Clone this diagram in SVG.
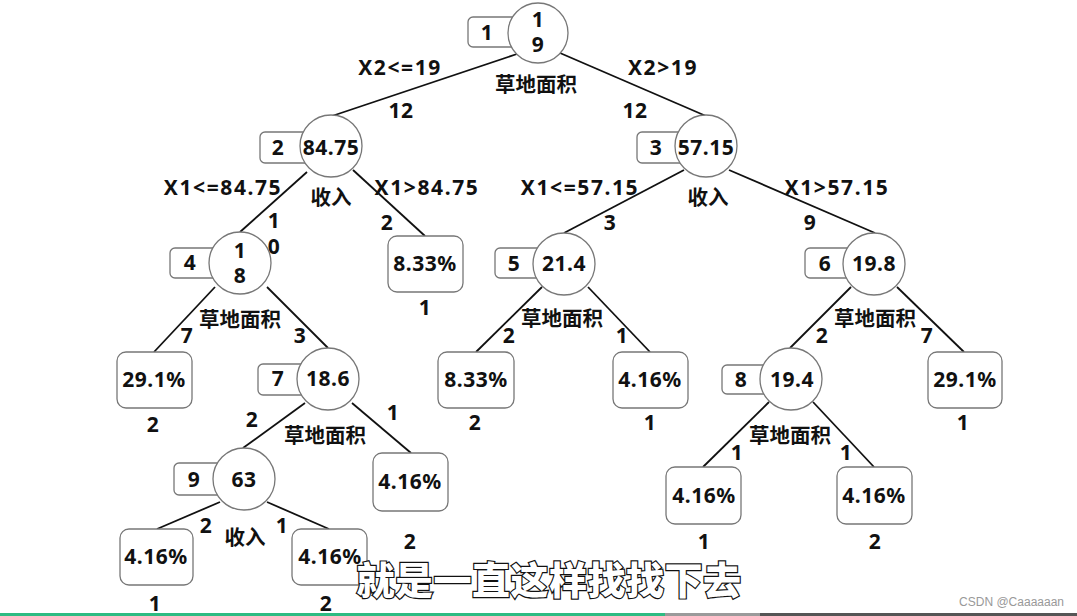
<svg xmlns="http://www.w3.org/2000/svg" width="1077" height="616" viewBox="0 0 1077 616">
<style>
.ln{stroke:#111;stroke-width:1.8;fill:none}
.c{fill:#fff;stroke:#777;stroke-width:1.3}
.b{fill:#fff;stroke:#777;stroke-width:1.3}
.t{font-family:"Noto Sans","Noto Sans CJK SC",sans-serif;font-weight:bold;font-size:21px;letter-spacing:0.5px;text-anchor:middle;fill:#111}
.x{letter-spacing:1.6px}
.cn{font-family:"Noto Sans CJK SC","Noto Sans",sans-serif;font-weight:bold;font-size:20.5px;text-anchor:middle;fill:#111}
.sub{font-family:"Noto Sans CJK SC",sans-serif;font-weight:900;font-size:38px;letter-spacing:0.5px;text-anchor:middle;fill:#fff;stroke:#111;stroke-width:2.4;paint-order:stroke}
.wm{font-family:"Liberation Sans",sans-serif;font-size:12px;text-anchor:end;fill:#999}
</style>
<rect width="1077" height="616" fill="#fff"/>
<g id="connectors">
<line class="ln" x1="517" y1="54" x2="332" y2="116"/>
<line class="ln" x1="560" y1="53" x2="706" y2="116"/>
<line class="ln" x1="307" y1="172" x2="240" y2="232"/>
<line class="ln" x1="353" y1="170" x2="425" y2="236"/>
<line class="ln" x1="684" y1="170" x2="564" y2="233"/>
<line class="ln" x1="729" y1="170" x2="875" y2="233"/>
<line class="ln" x1="215" y1="287" x2="154" y2="352"/>
<line class="ln" x1="267" y1="287" x2="328" y2="348"/>
<line class="ln" x1="305" y1="403" x2="243" y2="448"/>
<line class="ln" x1="352" y1="403" x2="411" y2="453"/>
<line class="ln" x1="220" y1="502" x2="157" y2="529"/>
<line class="ln" x1="267" y1="502" x2="329" y2="529"/>
<line class="ln" x1="542" y1="287" x2="476" y2="352"/>
<line class="ln" x1="588" y1="287" x2="650" y2="352"/>
<line class="ln" x1="851" y1="287" x2="790" y2="348"/>
<line class="ln" x1="897" y1="287" x2="964" y2="352"/>
<line class="ln" x1="769" y1="402" x2="703" y2="467"/>
<line class="ln" x1="813" y1="402" x2="874" y2="467"/>
</g>
<g id="edge-labels">
<text class="t x" x="400" y="75">X2&lt;=19</text>
<text class="cn" x="536" y="92">草地面积</text>
<text class="t x" x="663" y="75">X2&gt;19</text>
<text class="t" x="401" y="118">12</text>
<text class="t" x="635" y="118">12</text>
<text class="t x" x="223" y="195">X1&lt;=84.75</text>
<text class="cn" x="331" y="205">收入</text>
<text class="t x" x="427" y="195">X1&gt;84.75</text>
<text class="t" x="274" y="228">1</text>
<text class="t" x="274" y="254">0</text>
<text class="t" x="387" y="230">2</text>
<text class="t x" x="580" y="195">X1&lt;=57.15</text>
<text class="cn" x="708" y="205">收入</text>
<text class="t x" x="837" y="195">X1&gt;57.15</text>
<text class="t" x="610" y="230">3</text>
<text class="t" x="810" y="230">9</text>
<text class="cn" x="240" y="327">草地面积</text>
<text class="t" x="187" y="343">7</text>
<text class="t" x="300" y="343">3</text>
<text class="t" x="252" y="427">2</text>
<text class="cn" x="325" y="443">草地面积</text>
<text class="t" x="393" y="420">1</text>
<text class="t" x="206" y="533">2</text>
<text class="cn" x="245" y="545">收入</text>
<text class="t" x="282" y="533">1</text>
<text class="cn" x="562" y="326">草地面积</text>
<text class="t" x="509" y="343">2</text>
<text class="t" x="622" y="343">1</text>
<text class="cn" x="875" y="326">草地面积</text>
<text class="t" x="822" y="343">2</text>
<text class="t" x="927" y="343">7</text>
<text class="cn" x="790" y="443">草地面积</text>
<text class="t" x="737" y="460">1</text>
<text class="t" x="846" y="460">1</text>
</g>
<g id="node1">
<rect class="b" x="468" y="17" width="50" height="30" rx="5"/>
<circle class="c" cx="538" cy="33" r="30"/>
<text class="t" x="487" y="40">1</text>
<text class="t" x="538" y="27">1</text>
<text class="t" x="538" y="52">9</text>
</g>
<g id="node2">
<rect class="b" x="260" y="132" width="50" height="31" rx="5"/>
<circle class="c" cx="331" cy="146" r="31"/>
<text class="t" x="278" y="155">2</text>
<text class="t" x="331" y="155">84.75</text>
</g>
<g id="node3">
<rect class="b" x="637" y="132" width="50" height="31" rx="5"/>
<circle class="c" cx="706" cy="146" r="31"/>
<text class="t" x="656" y="155">3</text>
<text class="t" x="706" y="155">57.15</text>
</g>
<g id="node4">
<rect class="b" x="170" y="248" width="50" height="30" rx="5"/>
<circle class="c" cx="240" cy="263" r="31"/>
<text class="t" x="190" y="270">4</text>
<text class="t" x="240" y="258">1</text>
<text class="t" x="240" y="283">8</text>
</g>
<g id="leaf-n2-right">
<rect class="b" x="388" y="236" width="75" height="56" rx="9"/>
<text class="t" x="425" y="271">8.33%</text>
<text class="t" x="425" y="315">1</text>
</g>
<g id="node5">
<rect class="b" x="495" y="248" width="50" height="30" rx="5"/>
<circle class="c" cx="564" cy="264" r="31"/>
<text class="t" x="514" y="271">5</text>
<text class="t" x="564" y="271">21.4</text>
</g>
<g id="node6">
<rect class="b" x="805" y="248" width="50" height="30" rx="5"/>
<circle class="c" cx="874" cy="264" r="31"/>
<text class="t" x="825" y="271">6</text>
<text class="t" x="874" y="271">19.8</text>
</g>
<g id="leaf-n4-left">
<rect class="b" x="117" y="352" width="75" height="56" rx="9"/>
<text class="t" x="154" y="387">29.1%</text>
<text class="t" x="153" y="432">2</text>
</g>
<g id="node7">
<rect class="b" x="258" y="364" width="50" height="31" rx="5"/>
<circle class="c" cx="328" cy="379" r="31"/>
<text class="t" x="278" y="386">7</text>
<text class="t" x="328" y="386">18.6</text>
</g>
<g id="leaf-n7-right">
<rect class="b" x="373" y="453" width="75" height="58" rx="9"/>
<text class="t" x="410" y="489">4.16%</text>
<text class="t" x="410" y="549">2</text>
</g>
<g id="node9">
<rect class="b" x="174" y="463" width="50" height="32" rx="5"/>
<circle class="c" cx="244" cy="479" r="31"/>
<text class="t" x="194" y="487">9</text>
<text class="t" x="244" y="487">63</text>
</g>
<g id="leaf-n9-left">
<rect class="b" x="120" y="529" width="73" height="56" rx="9"/>
<text class="t" x="156" y="564">4.16%</text>
<text class="t" x="155" y="611">1</text>
</g>
<g id="leaf-n9-right">
<rect class="b" x="292" y="529" width="75" height="56" rx="9"/>
<text class="t" x="330" y="564">4.16%</text>
<text class="t" x="326" y="611">2</text>
</g>
<g id="leaf-n5-left">
<rect class="b" x="438" y="352" width="76" height="56" rx="9"/>
<text class="t" x="476" y="387">8.33%</text>
<text class="t" x="475" y="430">2</text>
</g>
<g id="leaf-n5-right">
<rect class="b" x="613" y="352" width="75" height="56" rx="9"/>
<text class="t" x="650" y="387">4.16%</text>
<text class="t" x="650" y="430">1</text>
</g>
<g id="node8">
<rect class="b" x="722" y="365" width="50" height="29" rx="5"/>
<circle class="c" cx="791" cy="379" r="31"/>
<text class="t" x="741" y="387">8</text>
<text class="t" x="792" y="387">19.4</text>
</g>
<g id="leaf-n6-right">
<rect class="b" x="928" y="352" width="74" height="56" rx="9"/>
<text class="t" x="965" y="387">29.1%</text>
<text class="t" x="963" y="430">1</text>
</g>
<g id="leaf-n8-left">
<rect class="b" x="666" y="467" width="75" height="57" rx="9"/>
<text class="t" x="704" y="503">4.16%</text>
<text class="t" x="704" y="549">1</text>
</g>
<g id="leaf-n8-right">
<rect class="b" x="837" y="467" width="75" height="57" rx="9"/>
<text class="t" x="874" y="503">4.16%</text>
<text class="t" x="875" y="549">2</text>
</g>
<text class="sub" x="549" y="594">就是一直这样找找下去</text>
<text class="wm" x="1064" y="606">CSDN @Caaaaaan</text>
<rect x="0" y="613" width="665" height="3" fill="#2dbb82"/>
<rect x="665" y="613" width="95" height="3" fill="#9a9a9a"/>
<rect x="760" y="613" width="317" height="3" fill="#555"/>
</svg>
